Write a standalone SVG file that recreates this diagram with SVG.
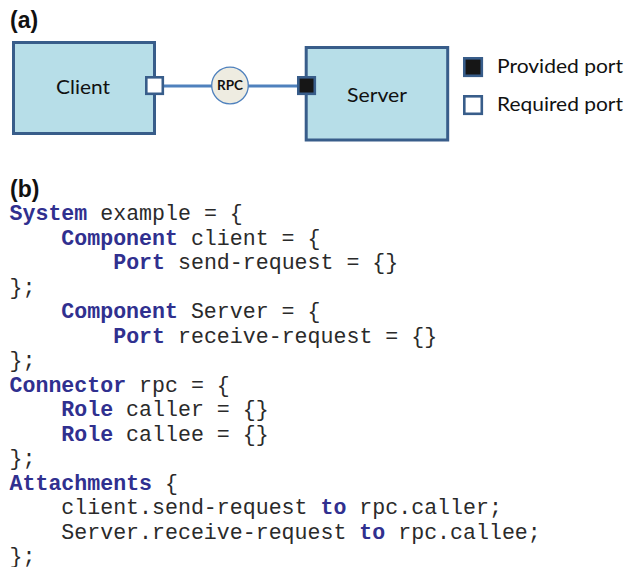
<svg xmlns="http://www.w3.org/2000/svg" width="627" height="567" viewBox="0 0 627 567">
  <style>
    .label { font-family: Lato, "Open Sans", "Liberation Sans", sans-serif; font-size: 20px; fill: #111; }
    .panel { font-family: "Liberation Sans", Arial, sans-serif; font-size: 23px; font-weight: bold; fill: #111; }
    .box { fill: #b7dee8; stroke: #385d8a; stroke-width: 3; }
    .port { stroke: #385d8a; stroke-width: 2.6; }
    .req { fill: #ffffff; }
    .prov { fill: #161616; }
    .wire { stroke: #4f81bd; stroke-width: 3; fill: none; }
    .code { font-family: "Liberation Mono", "Courier New", monospace; font-size: 21.6px; fill: #2a2a2a; }
    .kw { font-weight: bold; fill: #30308f; }
  </style>

  <!-- panel (a): component diagram -->
  <text class="panel" x="10" y="28">(a)</text>

  <g id="connectors">
    <line class="wire" x1="164" y1="86" x2="212" y2="86"/>
    <line class="wire" x1="248" y1="86" x2="297" y2="86"/>
  </g>

  <g id="client">
    <rect class="box" x="13.5" y="42.5" width="141" height="91"/>
    <text class="label" x="56" y="94" textLength="54" lengthAdjust="spacingAndGlyphs">Client</text>
    <rect class="port req" x="146.3" y="77.3" width="16.5" height="16.5"/>
  </g>

  <g id="rpc">
    <circle cx="230" cy="85.5" r="18.3" fill="#eeece1" stroke="#4f81bd" stroke-width="1.3"/>
    <text x="230" y="90" text-anchor="middle" font-family="Lato, 'Liberation Sans', sans-serif" font-size="13.5" font-weight="bold" fill="#111">RPC</text>
  </g>

  <g id="server">
    <rect class="box" x="306.2" y="47.5" width="141.5" height="92.5"/>
    <text class="label" x="347" y="102" textLength="60" lengthAdjust="spacingAndGlyphs">Server</text>
    <rect class="port prov" x="298.3" y="77.3" width="16.5" height="16.5"/>
  </g>

  <g id="legend">
    <rect class="port prov" x="464.3" y="58.3" width="17.5" height="17.5"/>
    <text class="label" x="497" y="73" textLength="126" lengthAdjust="spacingAndGlyphs">Provided port</text>
    <rect class="port req" x="464.3" y="96.3" width="17.5" height="17.5"/>
    <text class="label" x="497" y="111" textLength="126" lengthAdjust="spacingAndGlyphs">Required port</text>
  </g>

  <!-- panel (b): ADL listing; indent levels at 4 and 8 character cells -->
  <text class="panel" x="10" y="197">(b)</text>

  <g id="listing" class="code">
    <text x="9.5" y="220"><tspan class="kw">System</tspan> example = {</text>
    <text x="61.3" y="244.5"><tspan class="kw">Component</tspan> client = {</text>
    <text x="113.2" y="269"><tspan class="kw">Port</tspan> send-request = {}</text>
    <text x="9.5" y="293.5">};</text>
    <text x="61.3" y="318"><tspan class="kw">Component</tspan> Server = {</text>
    <text x="113.2" y="342.5"><tspan class="kw">Port</tspan> receive-request = {}</text>
    <text x="9.5" y="367">};</text>
    <text x="9.5" y="391.5"><tspan class="kw">Connector</tspan> rpc = {</text>
    <text x="61.3" y="416"><tspan class="kw">Role</tspan> caller = {}</text>
    <text x="61.3" y="440.5"><tspan class="kw">Role</tspan> callee = {}</text>
    <text x="9.5" y="465">};</text>
    <text x="9.5" y="489.5"><tspan class="kw">Attachments</tspan> {</text>
    <text x="61.3" y="514">client.send-request <tspan class="kw">to</tspan> rpc.caller;</text>
    <text x="61.3" y="538.5">Server.receive-request <tspan class="kw">to</tspan> rpc.callee;</text>
    <text x="9.5" y="562.5">};</text>
  </g>
</svg>
